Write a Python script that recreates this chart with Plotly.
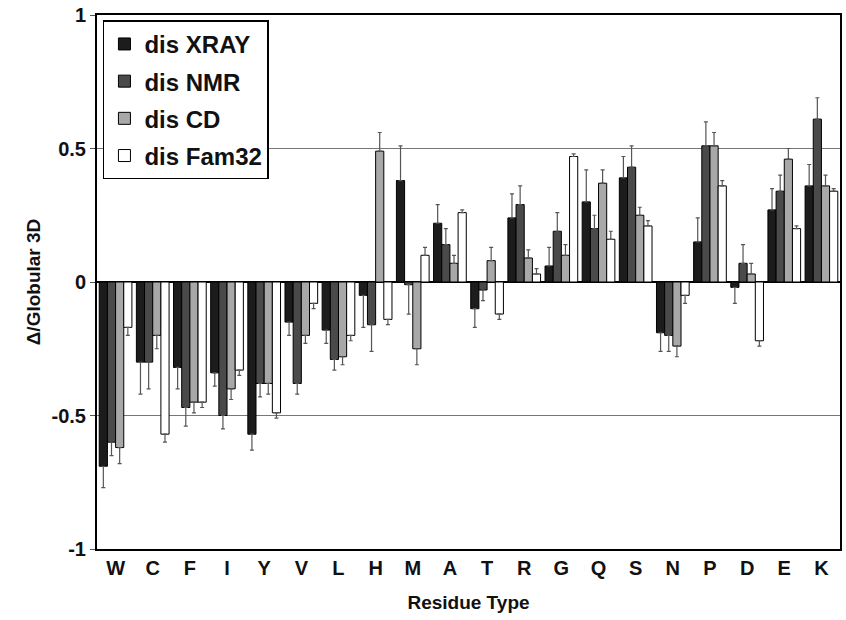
import plotly.graph_objects as go

residues = ["W", "C", "F", "I", "Y", "V", "L", "H", "M", "A", "T", "R", "G", "Q", "S", "N", "P", "D", "E", "K"]

xray = [-0.69, -0.30, -0.32, -0.34, -0.57, -0.15, -0.18, -0.05, 0.38, 0.22, -0.10, 0.24, 0.06, 0.30, 0.39, -0.19, 0.15, -0.02, 0.27, 0.36]
xray_err = [0.08, 0.12, 0.08, 0.05, 0.06, 0.05, 0.05, 0.12, 0.13, 0.07, 0.07, 0.09, 0.07, 0.12, 0.08, 0.07, 0.09, 0.06, 0.08, 0.08]

nmr = [-0.60, -0.30, -0.47, -0.50, -0.38, -0.38, -0.29, -0.16, -0.01, 0.14, -0.03, 0.29, 0.19, 0.20, 0.43, -0.20, 0.51, 0.07, 0.34, 0.61]
nmr_err = [0.05, 0.10, 0.07, 0.05, 0.05, 0.04, 0.04, 0.10, 0.11, 0.06, 0.04, 0.07, 0.07, 0.05, 0.08, 0.06, 0.09, 0.07, 0.06, 0.08]

cd = [-0.62, -0.20, -0.45, -0.40, -0.38, -0.20, -0.28, 0.49, -0.25, 0.07, 0.08, 0.09, 0.10, 0.37, 0.25, -0.24, 0.51, 0.03, 0.46, 0.36]
cd_err = [0.06, 0.05, 0.04, 0.04, 0.04, 0.03, 0.03, 0.07, 0.06, 0.03, 0.05, 0.03, 0.04, 0.05, 0.03, 0.04, 0.05, 0.04, 0.04, 0.04]

fam32 = [-0.17, -0.57, -0.45, -0.33, -0.49, -0.08, -0.20, -0.14, 0.10, 0.26, -0.12, 0.03, 0.47, 0.16, 0.21, -0.05, 0.36, -0.22, 0.20, 0.34]
fam32_err = [0.03, 0.03, 0.02, 0.02, 0.02, 0.02, 0.02, 0.02, 0.03, 0.01, 0.02, 0.02, 0.01, 0.03, 0.02, 0.03, 0.02, 0.02, 0.01, 0.01]

series = [
    ("dis XRAY", xray, xray_err, "#1c1c1c"),
    ("dis NMR", nmr, nmr_err, "#4a4a4a"),
    ("dis CD", cd, cd_err, "#a8a8a8"),
    ("dis Fam32", fam32, fam32_err, "#ffffff"),
]

fig = go.Figure()
for name, vals, errs, color in series:
    plus = [e if v >= 0 else 0 for v, e in zip(vals, errs)]
    minus = [e if v < 0 else 0 for v, e in zip(vals, errs)]
    fig.add_trace(go.Bar(
        name=name, x=residues, y=vals, legendgroup=name,
        marker=dict(color=color, line=dict(color="#000000", width=1)),
        error_y=dict(type="data", symmetric=False, array=plus, arrayminus=minus,
                     color="#555555", thickness=1.2, width=2),
    ))

fig.update_layout(
    width=846, height=620,
    margin=dict(l=97, r=4, t=13, b=71),
    paper_bgcolor="white", plot_bgcolor="white",
    barmode="group", bargap=0.12, bargroupgap=0.0,
    font=dict(family="Liberation Sans, Arial, sans-serif", color="#111111"),
    showlegend=True,
    legend=dict(
        x=0.008, y=0.99, xanchor="left", yanchor="top",
        bgcolor="white", bordercolor="#000000", borderwidth=1.5,
        font=dict(size=24, family="Liberation Sans, Arial, sans-serif", weight="bold"),
        itemwidth=30, tracegroupgap=3,
    ),
    xaxis=dict(
        title=dict(text="<b>Residue Type</b>", font=dict(size=19), standoff=18),
        tickfont=dict(size=20, weight="bold"),
        showline=True, mirror=True, linecolor="#000000", linewidth=2,
        showgrid=False, ticks="",
    ),
    yaxis=dict(
        title=dict(text="<b>Δ/Globular 3D</b>", font=dict(size=19), standoff=6),
        range=[-1, 1], tickvals=[-1, -0.5, 0, 0.5, 1],
        ticktext=["-1", "-0.5", "0", "0.5", "1"],
        tickfont=dict(size=20, weight="bold"),
        showline=True, mirror=True, linecolor="#000000", linewidth=2,
        showgrid=True, gridcolor="#777777", gridwidth=1,
        zeroline=True, zerolinecolor="#000000", zerolinewidth=1.5,
        ticks="outside", ticklen=5, tickcolor="#555555",
    ),
)

fig.write_html("out.html")
